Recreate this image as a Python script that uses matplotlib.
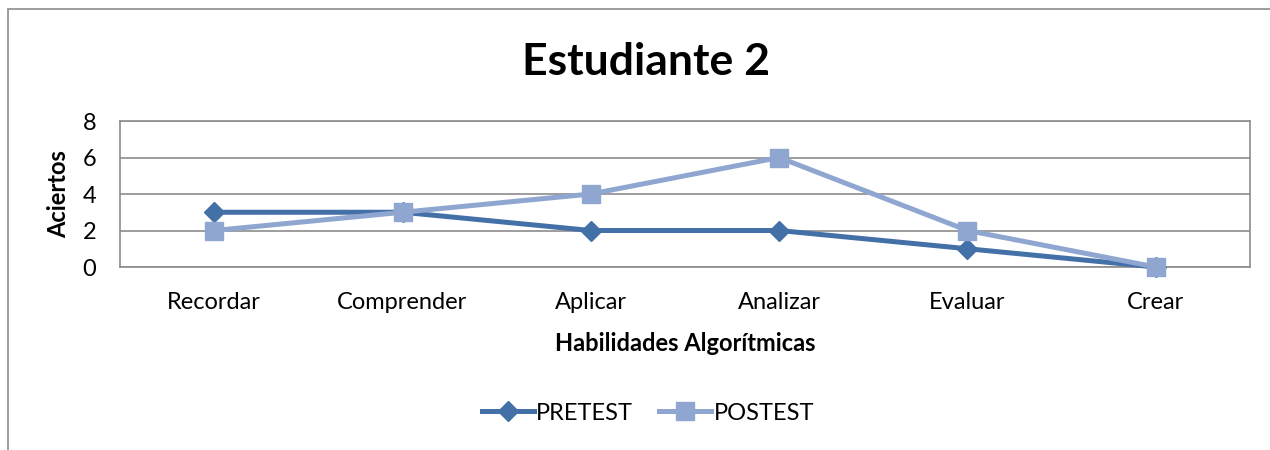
import matplotlib.pyplot as plt
from matplotlib.patches import Rectangle

plt.rcParams['font.family'] = ['Lato', 'DejaVu Sans']

habilidades = ['Recordar', 'Comprender', 'Aplicar', 'Analizar', 'Evaluar', 'Crear']
pretest = [3, 3, 2, 2, 1, 0]
postest = [2, 3, 4, 6, 2, 0]
yticks = [0, 2, 4, 6, 8]

fig = plt.figure(figsize=(12.7, 4.5), dpi=100)
# outer chart border (cut off on right and bottom like the original)
fig.patches.append(Rectangle((8 / 1270, -0.1), 1.2, 441 / 450 + 0.1,
                             transform=fig.transFigure, fill=False,
                             edgecolor='#8c8c8c', linewidth=1.2))

ax = fig.add_axes([120 / 1270, 1 - 267 / 450, 1130 / 1270, 146 / 450])
x = range(len(habilidades))
ax.plot(x, pretest, color='#4470a8', lw=3.6, marker='D', ms=10,
        label='PRETEST', zorder=3, clip_on=False)
ax.plot(x, postest, color='#8fa7d0', lw=3.6, marker='s', ms=13,
        label='POSTEST', zorder=4, clip_on=False)

ax.set_xlim(-0.5, 5.5)
ax.set_ylim(0, 8)
ax.set_yticks(yticks)
ax.set_xticks(list(x))
ax.set_xticklabels(habilidades)
ax.tick_params(axis='both', length=0, labelsize=17)
ax.tick_params(axis='y', pad=17)
ax.tick_params(axis='x', pad=18)
ax.grid(axis='y', color='#8c8c8c', lw=1.2)
ax.set_axisbelow(True)
for s in ax.spines.values():
    s.set_color('#8c8c8c')
    s.set_linewidth(1.2)

ax.set_xlabel('Habilidades Algorítmicas', fontsize=17, fontweight='bold', labelpad=14)
ax.set_ylabel('Aciertos', fontsize=17, fontweight='bold', labelpad=9)
fig.text(646 / 1270, 1 - 62 / 450, 'Estudiante 2', fontsize=32, fontweight='bold',
         ha='center', va='center')

ax.legend(loc='center', bbox_to_anchor=((648 - 120) / 1130, (267 - 413) / 146),
          ncol=2, frameon=False, fontsize=17, handlelength=2.2,
          columnspacing=1.1, handletextpad=0.1)

fig.savefig('out.png', dpi=100)
